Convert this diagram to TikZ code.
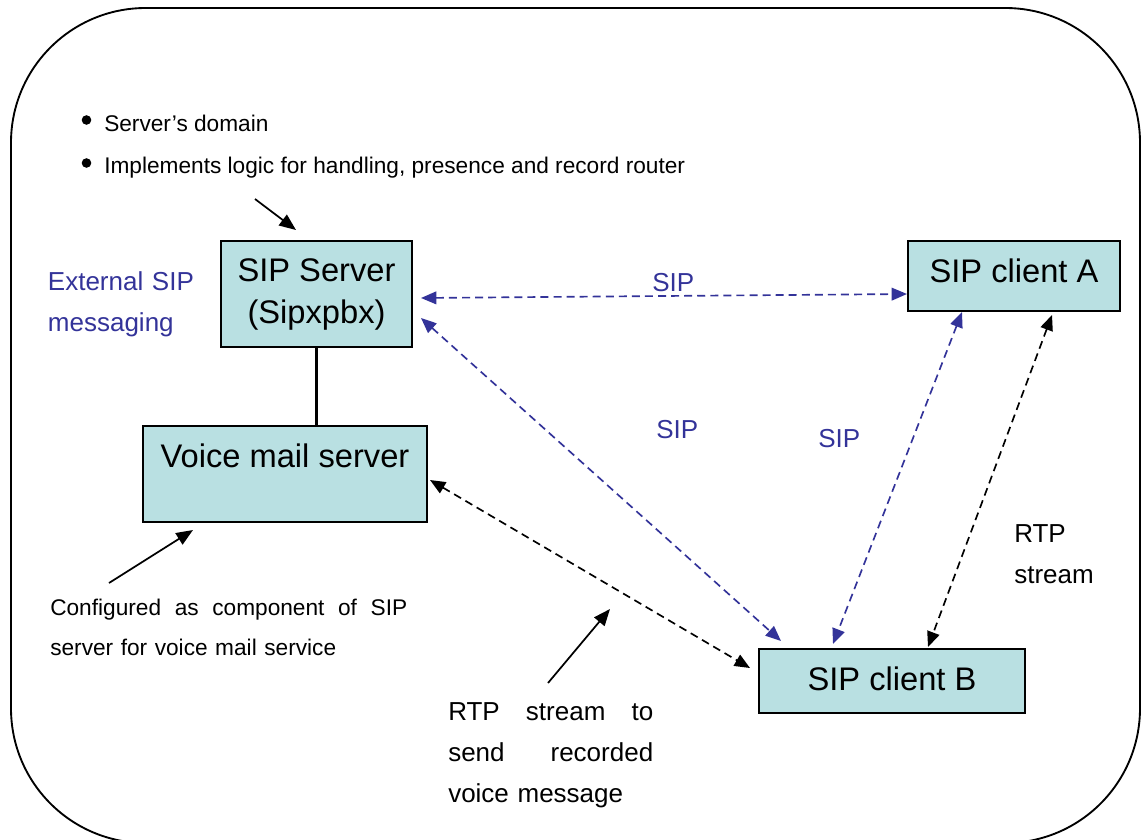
\documentclass[tikz,border=0pt]{standalone}
\usepackage{fontspec}
\setmainfont{Liberation Sans}
\usetikzlibrary{arrows.meta}
\definecolor{sipblue}{RGB}{51,51,153}
\definecolor{boxfill}{RGB}{185,224,226}

\begin{document}
\begin{tikzpicture}[x=0.75pt,y=-0.75pt,
  unit/.style={draw=black,line width=1.5pt,fill=boxfill,inner xsep=0pt,inner ysep=0pt,
    font=\fontsize{24.5}{31.5}\selectfont},
  note/.style={font=\fontsize{17}{30}\selectfont,inner sep=0pt,anchor=base west,align=left},
  tag/.style={font=\fontsize{19.5}{30.75}\selectfont,inner sep=0pt,anchor=base west,align=left},
  link/.style={line width=1.25pt,dash pattern=on 6pt off 3.8pt,
    {Triangle[length=11.5pt,width=9.5pt]}-{Triangle[length=11.5pt,width=9.5pt]}},
  sipline/.style={link,sipblue},
  rtpline/.style={link,black},
  pointer/.style={line width=1.3pt,-{Triangle[length=12.5pt,width=10pt]}},
  dot/.style={circle,fill=black,inner sep=0pt,minimum size=7.2pt}]

\useasboundingbox (0,0) rectangle (1146,839);

% outer frame
\draw[line width=1.4pt,rounded corners=101pt] (11,8) rectangle (1140,843);

% components
\node[unit,minimum width=143.25pt,text height=30pt,text depth=49.5pt] (srv) at (316.5,294)
  {\parbox[t]{143pt}{\centering SIP Server\\(Sipxpbx)}};
\node[unit,minimum width=213pt,text height=30.75pt,text depth=41.25pt] (vm) at (285,474)
  {Voice mail server};
\node[unit,minimum width=159pt,text height=30.75pt,text depth=21.75pt] (ca) at (1014,276)
  {SIP client A};
\node[unit,minimum width=199.5pt,text height=30.75pt,text depth=17.25pt] (cb) at (892,681)
  {SIP client B};

% server to voice mail server
\draw[line width=2.6pt] (srv.south) -- (srv.south |- vm.north);

% connector end points
\coordinate (sA) at (421,298);  \coordinate (aS) at (907,294);
\coordinate (sB) at (421,318);  \coordinate (bS) at (781,641);
\coordinate (aB) at (962,312);  \coordinate (bA) at (833,644);
\coordinate (aR) at (1052,315); \coordinate (bR) at (928,647);
\coordinate (vB) at (430,480);  \coordinate (bV) at (750,668);

\draw[sipline] (sA) -- (aS);
\draw[sipline] (sB) -- (bS);
\draw[sipline] (aB) -- (bA);
\draw[rtpline] (aR) -- (bR);
\draw[rtpline] (vB) -- (bV);

% annotation pointers
\coordinate (p1s) at (255,199); \coordinate (p1e) at (296,230);
\coordinate (p2s) at (109,583); \coordinate (p2e) at (193,530);
\coordinate (p3s) at (548,683); \coordinate (p3e) at (610,609);
\draw[pointer] (p1s) -- (p1e);
\draw[pointer] (p2s) -- (p2e);
\draw[pointer] (p3s) -- (p3e);

% bullet list
\node[dot] (b1) at (86.5,120) {};
\node[dot] (b2) at (86.5,163) {};
\node[note] (t1) at (104,131.7) {Server’s domain};
\node[note] (t2) at (104,173.3) {Implements logic for handling, presence and record router};

% labels
\node[tag,text=sipblue,text width=120pt] (ext) at (47.7,290.7) {External SIP\\messaging};
\node[tag,text=sipblue] (l1) at (652,291) {SIP};
\node[tag,text=sipblue] (l2) at (656,438) {SIP};
\node[tag,text=sipblue] (l3) at (818,447) {SIP};
\node[tag,text width=80pt] (rtp) at (1014,542) {RTP\\stream};
\node[note,text width=267.75pt] (cfg) at (50,615)
  {Configured\hfill as\hfill component\hfill of\hfill SIP\\server for voice mail service};
\node[tag,text width=153.75pt] (rec) at (448,720)
  {RTP\hfill stream\hfill to\\send\hfill recorded\\voice message};
\end{tikzpicture}
\end{document}
